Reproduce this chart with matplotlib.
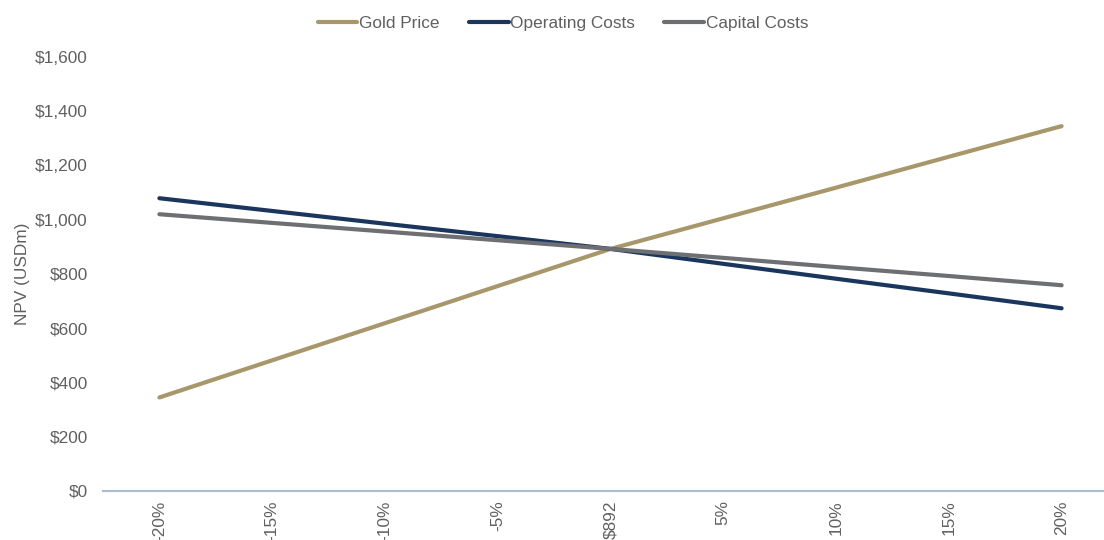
import matplotlib
matplotlib.use("Agg")
import matplotlib.pyplot as plt

categories = ["-20%", "-15%", "-10%", "-5%", "$892", "5%", "10%", "15%", "20%"]
gold_price = [344, 481, 618, 755, 892, 1005, 1118, 1232, 1345]
operating_costs = [1079, 1032, 985, 939, 892, 837, 782, 728, 673]
capital_costs = [1020, 988, 956, 924, 892, 859, 825, 792, 758]

plt.rcParams["font.family"] = ["Liberation Sans", "DejaVu Sans"]
text_color = "#606060"
fs = 12.4

fig = plt.figure(figsize=(11.04, 5.40), dpi=100)
ax = fig.add_axes([103 / 1104, 49.3 / 540, 1015 / 1104, 433.7 / 540])

x = list(range(len(categories)))
ax.plot(x, gold_price, color="#A8976A", lw=3, label="Gold Price", solid_capstyle="round")
ax.plot(x, operating_costs, color="#1B365D", lw=3, label="Operating Costs", solid_capstyle="round")
ax.plot(x, capital_costs, color="#6E6F72", lw=3, label="Capital Costs", solid_capstyle="round")

ax.set_xlim(-0.5, 8.5)
ax.set_ylim(0, 1600)
ax.set_yticks(range(0, 1601, 200))
ax.set_yticklabels([f"${v:,}" for v in range(0, 1601, 200)])
ax.set_xticks(x)
ax.set_xticklabels(categories, rotation=90)

for s in ["top", "right", "left"]:
    ax.spines[s].set_visible(False)
ax.spines["bottom"].set_color("#A9BCD0")
ax.spines["bottom"].set_linewidth(1.5)
ax.tick_params(axis="both", length=0, labelsize=fs, labelcolor=text_color)
ax.tick_params(axis="y", pad=11)
ax.tick_params(axis="x", pad=7)

ax.set_ylabel("NPV (USDm)", fontsize=fs, color=text_color)
ax.yaxis.set_label_coords(-0.072, 0.5)

fig.legend(loc="upper center", bbox_to_anchor=(0.51, 1.0), ncol=3, frameon=False,
           fontsize=fs, labelcolor=text_color, handlelength=2.3, handletextpad=0.1,
           columnspacing=1.7)

plt.savefig("out.png", dpi=100)
